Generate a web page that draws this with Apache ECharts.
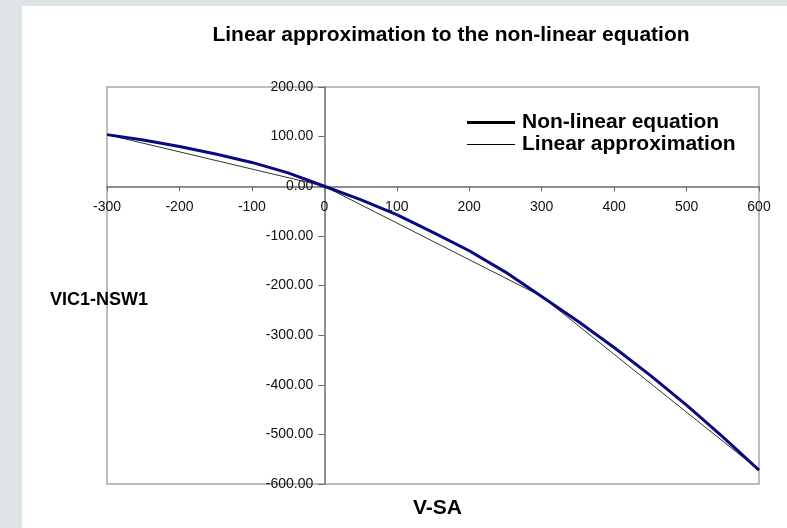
<!DOCTYPE html>
<html>
<head>
<meta charset="utf-8">
<script src="https://cdn.jsdelivr.net/npm/echarts@6/dist/echarts.min.js"></script>
<style>
  html, body { margin: 0; padding: 0; background: #dfe5e7; }
  #chart { position: absolute; left: 22px; top: 6px; width: 765px; height: 522px; background: #fff; }
</style>
</head>
<body>
<div id="chart"></div>
<script>
// V-SA flow (x) vs VIC1-NSW1 flow (y)
const nonLinearX = [-300, -250, -200, -150, -100, -50, 0, 50, 100, 150, 200, 250, 300, 350, 400, 450, 500, 550, 600];
const nonLinearY = [104, 93, 80, 65, 48, 27, 0, -27, -57, -93, -130, -173, -222, -272, -325, -381, -441, -505, -572];

// piecewise linear approximation, breakpoints only
const linearX = [-300, 0, 300, 600];
const linearY = [104, 0, -222, -572];

const seriesNames = ['Non-linear equation', 'Linear approximation'];
const titleText = 'Linear approximation to the non-linear equation';
const xName = 'V-SA';
const yName = 'VIC1-NSW1';

const xMin = -300, xMax = 600;
const yMin = -600, yMax = 200;

const font = 'Arial, "Liberation Sans", sans-serif';
const zip = (xs, ys) => xs.map((x, i) => [x, ys[i]]);

// grid box (px inside the chart div)
const gLeft = 85, gTop = 81, gRight = 28, gBottom = 44;
const W = 765, H = 522;
const plotW = W - gLeft - gRight;
const plotH = H - gTop - gBottom;
// axes cross at 0,0 -> shift them inwards with a negative offset
const xOffset = -plotH * (0 - yMin) / (yMax - yMin);
const yOffset = -plotW * (0 - xMin) / (xMax - xMin);

const axisColor = '#6a6a6a';

const chart = echarts.init(document.getElementById('chart'));

chart.setOption({
  backgroundColor: '#fff',
  animation: false,
  title: {
    text: titleText,
    left: 424,
    textAlign: 'center',
    top: 14,
    textStyle: { fontFamily: font, fontSize: 21, fontWeight: 'bold', color: '#000' },
  },
  legend: {
    orient: 'vertical',
    left: 440,
    top: 101,
    itemWidth: 48,
    itemHeight: 14,
    itemGap: 1,
    textStyle: { fontFamily: font, fontSize: 21, fontWeight: 'bold', color: '#000', padding: [0, 0, 0, 2] },
    data: [
      { name: seriesNames[0], icon: 'path://M0,0H48V3H0Z', itemStyle: { color: '#000' } },
      { name: seriesNames[1], icon: 'path://M0,0H48V1.2H0Z', itemStyle: { color: '#000' } },
    ],
  },
  grid: {
    left: gLeft, top: gTop, right: gRight, bottom: gBottom,
    show: true,
    borderColor: '#a8a8a8',
    borderWidth: 1.5,
  },
  xAxis: {
    type: 'value',
    min: xMin, max: xMax, interval: 100,
    position: 'bottom',
    offset: xOffset,
    axisLine: { onZero: false, lineStyle: { color: axisColor, width: 1.5 } },
    axisTick: { length: 5, lineStyle: { color: axisColor } },
    axisLabel: { margin: 14, fontFamily: font, fontSize: 14, color: '#111' },
    splitLine: { show: false },
  },
  yAxis: {
    type: 'value',
    min: yMin, max: yMax, interval: 100,
    position: 'left',
    offset: yOffset,
    axisLine: { onZero: false, lineStyle: { color: axisColor, width: 1.5 } },
    axisTick: { show: true, length: 6, lineStyle: { color: axisColor } },
    axisLabel: {
      margin: 11, fontFamily: font, fontSize: 14, color: '#111',
      formatter: (v) => v.toFixed(2),
    },
    splitLine: { show: false },
  },
  graphic: [
    {
      type: 'text', left: 28, top: 285,
      style: { text: yName, font: 'bold 18px ' + font, fill: '#000' },
    },
    {
      type: 'text', left: 391, top: 492,
      style: { text: xName, font: 'bold 21px ' + font, fill: '#000' },
    },
  ],
  series: [
    {
      name: seriesNames[1],
      type: 'line',
      data: zip(linearX, linearY),
      symbol: 'none',
      lineStyle: { color: '#333', width: 1 },
      z: 2,
    },
    {
      name: seriesNames[0],
      type: 'line',
      data: zip(nonLinearX, nonLinearY),
      symbol: 'none',
      lineStyle: { color: '#0a0a80', width: 3 },
      z: 3,
    },
  ],
});
</script>
</body>
</html>
